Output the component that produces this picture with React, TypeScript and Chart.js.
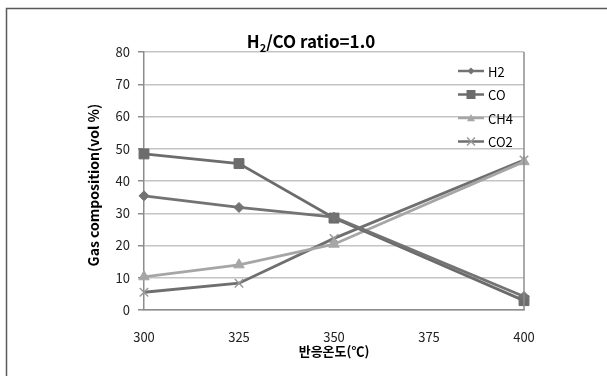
import { useEffect, useRef } from "react";
import { Chart, registerables } from "chart.js";

Chart.register(...registerables);

// Reaction temperature (°C) and gas composition (vol %) at each point
const temperatures = [300, 325, 350, 400];
const xTickValues = [300, 325, 350, 375, 400];
const yTickValues = [0, 10, 20, 30, 40, 50, 60, 70, 80];
const h2Values = [35.4, 31.8, 28.8, 4.2];
const coValues = [48.4, 45.4, 28.5, 2.9];
const ch4Values = [10.3, 14.0, 20.4, 46.0];
const co2Values = [5.5, 8.3, 22.2, 46.5];
const seriesNames = ["H2", "CO", "CH4", "CO2"];

const FONT = "'Noto Sans CJK KR', 'Noto Sans', sans-serif";

const toPoints = (vals: number[]) => temperatures.map((t, i) => ({ x: t, y: vals[i] }));

// Outer frame and the right-hand plot border
const framePlugin = {
  id: "frame",
  beforeDraw(chart: any) {
    const { ctx, width, height } = chart;
    ctx.save();
    ctx.fillStyle = "#ffffff";
    ctx.fillRect(0, 0, width, height);
    ctx.strokeStyle = "#5a5a5a";
    ctx.lineWidth = 1.5;
    ctx.strokeRect(6.5, 8.5, width + 20, height + 20);
    ctx.restore();
  },
  afterDraw(chart: any) {
    const { ctx, chartArea } = chart;
    ctx.save();
    ctx.strokeStyle = "#8c8c8c";
    ctx.lineWidth = 1.5;
    ctx.beginPath();
    ctx.moveTo(chartArea.right, chartArea.top);
    ctx.lineTo(chartArea.right, chartArea.bottom);
    ctx.stroke();
    ctx.restore();
  },
};

// Title with subscript, axis titles and the legend
const textPlugin = {
  id: "texts",
  afterDraw(chart: any) {
    const { ctx, chartArea } = chart;
    ctx.save();
    ctx.fillStyle = "#000000";
    ctx.textBaseline = "alphabetic";

    // Title: H2/CO ratio=1.0
    const big = `bold 17px ${FONT}`;
    const small = `bold 11px ${FONT}`;
    ctx.font = big;
    const wH = ctx.measureText("H").width;
    const wRest = ctx.measureText("/CO ratio=1.0").width;
    ctx.font = small;
    const w2 = ctx.measureText("2").width;
    const total = wH + w2 + wRest;
    let x = 311 - total / 2;
    const base = 48;
    ctx.textAlign = "left";
    ctx.font = big;
    ctx.fillText("H", x, base);
    x += wH;
    ctx.font = small;
    ctx.fillText("2", x, base + 4);
    x += w2;
    ctx.font = big;
    ctx.fillText("/CO ratio=1.0", x, base);

    // Axis titles
    ctx.font = `bold 13px ${FONT}`;
    ctx.textAlign = "center";
    ctx.textBaseline = "middle";
    ctx.fillText("반응온도(℃)", (chartArea.left + chartArea.right) / 2, 351);
    ctx.font = `bold 14px ${FONT}`;
    ctx.save();
    ctx.translate(94, 185);
    ctx.rotate(-Math.PI / 2);
    ctx.fillText("Gas composition(vol %)", 0, 0);
    ctx.restore();

    // Legend
    const rows = [71, 94.5, 118, 141.5];
    chart.data.datasets.forEach((ds: any, i: number) => {
      const y = rows[i];
      ctx.strokeStyle = ds.borderColor;
      ctx.lineWidth = 2.5;
      ctx.beginPath();
      ctx.moveTo(458, y);
      ctx.lineTo(484, y);
      ctx.stroke();
      ctx.fillStyle = ds.pointBackgroundColor;
      ctx.strokeStyle = ds.pointBorderColor;
      ctx.lineWidth = ds.pointBorderWidth;
      const r = ds.legendRadius;
      const cx = 471;
      ctx.beginPath();
      if (ds.pointStyle === "rectRot") {
        ctx.moveTo(cx, y - r);
        ctx.lineTo(cx + r, y);
        ctx.lineTo(cx, y + r);
        ctx.lineTo(cx - r, y);
        ctx.closePath();
        ctx.fill();
      } else if (ds.pointStyle === "rect") {
        ctx.rect(cx - r, y - r, 2 * r, 2 * r);
        ctx.fill();
      } else if (ds.pointStyle === "triangle") {
        ctx.moveTo(cx, y - r);
        ctx.lineTo(cx + r, y + r * 0.8);
        ctx.lineTo(cx - r, y + r * 0.8);
        ctx.closePath();
        ctx.fill();
      } else {
        ctx.moveTo(cx - r, y - r);
        ctx.lineTo(cx + r, y + r);
        ctx.moveTo(cx + r, y - r);
        ctx.lineTo(cx - r, y + r);
        ctx.stroke();
      }
      ctx.fillStyle = "#000000";
      ctx.font = `13px ${FONT}`;
      ctx.textAlign = "left";
      ctx.textBaseline = "middle";
      ctx.fillText(seriesNames[i], 488, y + 1);
    });
    ctx.restore();
  },
};

export default function App() {
  const canvasRef = useRef<HTMLCanvasElement | null>(null);

  useEffect(() => {
    if (!canvasRef.current) return;
    const chart = new Chart(canvasRef.current, {
      type: "line",
      data: {
        datasets: [
          {
            label: seriesNames[0],
            data: toPoints(h2Values),
            borderColor: "#737373",
            backgroundColor: "#737373",
            pointBackgroundColor: "#737373",
            pointBorderColor: "#737373",
            pointBorderWidth: 1,
            pointStyle: "rectRot",
            pointRadius: 5,
            legendRadius: 3.5,
            borderWidth: 2.8,
            clip: false,
          } as any,
          {
            label: seriesNames[1],
            data: toPoints(coValues),
            borderColor: "#6c6c6c",
            backgroundColor: "#6c6c6c",
            pointBackgroundColor: "#6c6c6c",
            pointBorderColor: "#6c6c6c",
            pointBorderWidth: 1,
            pointStyle: "rect",
            pointRadius: 7,
            legendRadius: 4.5,
            borderWidth: 2.8,
            clip: false,
          } as any,
          {
            label: seriesNames[2],
            data: toPoints(ch4Values),
            borderColor: "#a6a6a6",
            backgroundColor: "#a6a6a6",
            pointBackgroundColor: "#a6a6a6",
            pointBorderColor: "#a6a6a6",
            pointBorderWidth: 1,
            pointStyle: "triangle",
            pointRadius: 6,
            legendRadius: 4,
            borderWidth: 2.8,
            clip: false,
          } as any,
          {
            label: seriesNames[3],
            data: toPoints(co2Values),
            borderColor: "#6f6f6f",
            backgroundColor: "#9a9a9a",
            pointBackgroundColor: "#9a9a9a",
            pointBorderColor: "#9a9a9a",
            pointBorderWidth: 1.5,
            pointStyle: "crossRot",
            pointRadius: 6,
            legendRadius: 4,
            borderWidth: 2.8,
            clip: false,
          } as any,
        ],
      },
      options: {
        responsive: false,
        animation: false,
        layout: { padding: { top: 52, right: 83, left: 0, bottom: 0 } },
        plugins: {
          legend: { display: false },
          title: { display: false },
          tooltip: { enabled: false },
        },
        scales: {
          x: {
            type: "linear",
            min: 300,
            max: 400,
            afterFit: (scale: any) => {
              scale.height = 66;
            },
            afterBuildTicks: (scale: any) => {
              scale.ticks = xTickValues.map((v) => ({ value: v }));
            },
            grid: { display: false, drawTicks: false },
            border: { display: true, color: "#8c8c8c", width: 1.5 },
            ticks: {
              padding: 19,
              color: "#222222",
              font: { family: FONT, size: 13 },
            },
          },
          y: {
            min: 0,
            max: 80,
            afterFit: (scale: any) => {
              scale.width = 144;
            },
            afterBuildTicks: (scale: any) => {
              scale.ticks = yTickValues.map((v) => ({ value: v }));
            },
            grid: {
              color: "#c4c4c4",
              lineWidth: 1.5,
              tickLength: 6,
              tickColor: "#8c8c8c",
            },
            border: { display: true, color: "#8c8c8c", width: 1.5 },
            ticks: {
              padding: 8,
              color: "#222222",
              font: { family: FONT, size: 13 },
            },
          },
        },
      },
      plugins: [framePlugin, textPlugin],
    });
    return () => chart.destroy();
  }, []);

  return (
    <div style={{ position: "absolute", left: 0, top: 0, width: 607, height: 376 }}>
      <canvas ref={canvasRef} width={607} height={376} />
    </div>
  );
}
